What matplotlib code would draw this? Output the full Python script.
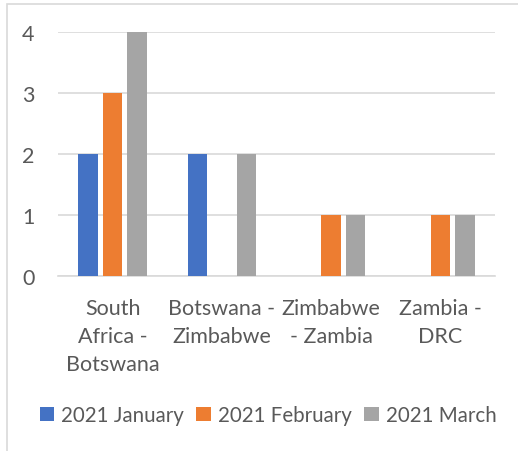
import matplotlib
matplotlib.use("Agg")
import matplotlib.pyplot as plt
import numpy as np
from matplotlib.patches import Rectangle, Patch

categories = ["South\nAfrica -\nBotswana", "Botswana -\nZimbabwe", "Zimbabwe\n- Zambia", "Zambia -\nDRC"]
series_names = ["2021 January", "2021 February", "2021 March"]
january = [2, 2, 0, 0]
february = [3, 0, 1, 1]
march = [4, 2, 1, 1]
colors = ["#4472C4", "#ED7D31", "#A5A5A5"]

W, H = 518, 452
DPI = 100
plt.rcParams["font.family"] = ["Lato", "DejaVu Sans"]
text_color = "#595959"
grid_color = "#D9D9D9"

fig = plt.figure(figsize=(W / DPI, H / DPI), dpi=DPI)

# chart area border (runs off the right and bottom edges)
fig.patches.append(Rectangle((7 / W, -0.1), 1.2, 1 - 5 / H + 0.1,
                             transform=fig.transFigure, fill=False,
                             edgecolor=grid_color, linewidth=1.2))

left, right, bottom, top = 58, 495, 277, 33
ax = fig.add_axes([left / W, 1 - bottom / H, (right - left) / W, (bottom - top) / H])

x = np.arange(len(categories))
width = 0.178
pitch = 0.224
for i, (vals, name, c) in enumerate(zip([january, february, march], series_names, colors)):
    ax.bar(x + (i - 1) * pitch, vals, width=width, color=c, label=name, zorder=3)

ax.set_xlim(-0.5, len(categories) - 0.5)
ax.set_ylim(0, 4)
ax.set_yticks([0, 1, 2, 3, 4])
ax.yaxis.grid(True, color=grid_color, linewidth=1.2, zorder=0)
for s in ["top", "right", "left"]:
    ax.spines[s].set_visible(False)
ax.spines["bottom"].set_color(grid_color)
ax.spines["bottom"].set_linewidth(1.2)
ax.tick_params(axis="both", length=0, colors=text_color, labelsize=15.5)
ax.tick_params(axis="y", pad=17)
ax.tick_params(axis="x", pad=16)
ax.set_xticks(x)
ax.set_xticklabels(categories, linespacing=1.5)

handles = [Patch(facecolor=c, label=n) for c, n in zip(colors, series_names)]
leg = fig.legend(handles=handles, loc="center", bbox_to_anchor=(268 / W, 1 - 416 / H),
                 ncol=3, frameon=False, fontsize=14.8, handlelength=0.7, handleheight=0.7,
                 handletextpad=0.35, columnspacing=0.6, borderaxespad=0)
for t in leg.get_texts():
    t.set_color(text_color)

fig.savefig("out.png", dpi=DPI)
